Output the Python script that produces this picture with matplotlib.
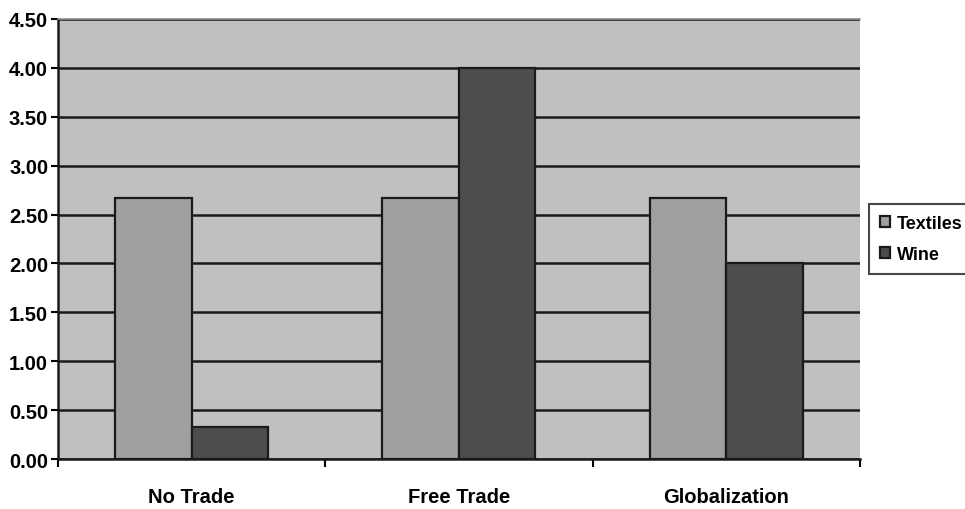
import numpy as np
import matplotlib
matplotlib.use("Agg")
import matplotlib.pyplot as plt

categories = ["No Trade", "Free Trade", "Globalization"]
textiles = [2.67, 2.67, 2.67]
wine = [0.33, 4.00, 2.00]
yticks = [0.0, 0.5, 1.0, 1.5, 2.0, 2.5, 3.0, 3.5, 4.0, 4.5]

plt.rcParams["font.family"] = ["Liberation Sans", "DejaVu Sans"]
plt.rcParams["font.weight"] = "bold"

fig = plt.figure(figsize=(9.65, 5.1), dpi=100, facecolor="white")
ax = fig.add_axes([0.060, 0.098, 0.831, 0.863])
ax.set_facecolor("#c0c0c0")

x = np.arange(len(categories))
w = 1 / 3.5
ax.bar(x - w / 2, textiles, w, color="#a0a0a0", edgecolor="#1a1a1a",
       linewidth=1.6, label="Textiles", zorder=3)
ax.bar(x + w / 2, wine, w, color="#4d4d4d", edgecolor="#1a1a1a",
       linewidth=1.6, label="Wine", zorder=3)

ax.set_xlim(-0.5, 2.5)
ax.set_ylim(0, 4.5)
ax.set_yticks(yticks)
ax.set_yticklabels([f"{v:.2f}" for v in yticks], fontsize=14.5, fontweight="bold")
ax.yaxis.grid(True, color="#1a1a1a", linewidth=1.8, zorder=1)
ax.set_axisbelow(True)

# category ticks sit between groups, labels centered under groups
ax.set_xticks([-0.5, 0.5, 1.5, 2.5])
ax.set_xticklabels([])
ax.set_xticks(x, minor=True)
ax.set_xticklabels(categories, minor=True, fontsize=14.5, fontweight="bold")
ax.tick_params(axis="x", which="minor", length=0, pad=20)
ax.tick_params(axis="x", which="major", length=6, width=1.5, direction="out")
ax.tick_params(axis="y", length=5, width=1.5, direction="out", pad=2)

for s in ["left", "bottom"]:
    ax.spines[s].set_color("#1a1a1a")
    ax.spines[s].set_linewidth(1.8)
ax.spines["top"].set_color("#909090")
ax.spines["top"].set_linewidth(1.2)
ax.spines["right"].set_visible(False)

leg = ax.legend(loc="center left", bbox_to_anchor=(1.012, 0.5),
                fontsize=13, frameon=True, fancybox=False,
                handlelength=0.55, handleheight=0.55, handletextpad=0.35,
                borderpad=0.6, labelspacing=0.8, borderaxespad=0)
leg.get_frame().set_edgecolor("#1a1a1a")
leg.get_frame().set_linewidth(1.5)
for t in leg.get_texts():
    t.set_fontweight("bold")

fig.savefig("out.png", dpi=100, facecolor="white")
